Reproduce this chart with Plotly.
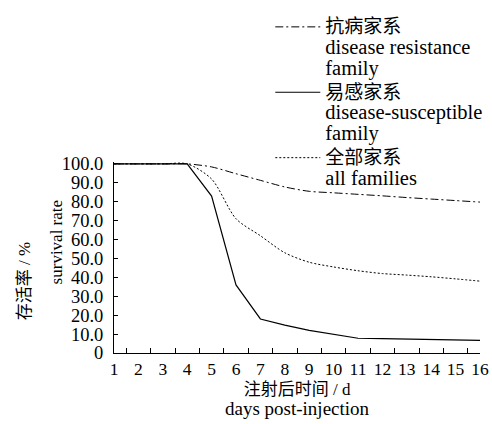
import plotly.graph_objects as go

days = [str(d) for d in range(1, 17)]
resistant = [100, 100, 100, 100, 98.4, 94.8, 91.3, 87.8, 85.5, 84.7, 83.9, 83.1, 82.2, 81.4, 80.6, 79.8]
susceptible = [100, 100, 100, 100, 83.0, 36.0, 18.0, 14.7, 12.0, 10.0, 7.8, 7.6, 7.4, 7.2, 7.0, 6.7]
all_fam = [100, 100, 100, 100, 92.0, 71.0, 62.0, 53.0, 48.0, 45.5, 43.5, 42.0, 41.2, 40.3, 39.2, 38.0]

ytick_vals = [0, 10, 20, 30, 40, 50, 60, 70, 80, 90, 100]
ytick_text = ["0", "10.0", "20.0", "30.0", "40.0", "50.0", "60.0", "70.0", "80.0", "90.0", "100.0"]

cn_names = ["抗病家系", "易感家系", "全部家系"]
en_names = [["disease resistance", "family"], ["disease-susceptible", "family"], ["all families"]]

FONT = "Liberation Serif, Times New Roman, Noto Sans CJK SC, serif"


def legend_label(cn, en_lines):
    parts = ['<span style="font-size:19px">%s</span>' % cn]
    parts += ['<span style="font-size:20.5px">%s</span>' % e for e in en_lines]
    return "<br>".join(parts)


names = [legend_label(c, e) for c, e in zip(cn_names, en_names)]
x_title = ('<span style="font-size:17px">注射后时间 / d</span><br>'
           '<span style="font-size:19px">days post-injection</span>')

fig = go.Figure()
fig.add_trace(go.Scatter(x=days, y=resistant, mode="lines", name=names[0],
                         line=dict(color="black", width=1, dash="8px,3px,2px,3px", shape="spline", smoothing=0.8)))
fig.add_trace(go.Scatter(x=days, y=susceptible, mode="lines", name=names[1],
                         line=dict(color="black", width=1.2)))
fig.add_trace(go.Scatter(x=days, y=all_fam, mode="lines", name=names[2],
                         line=dict(color="black", width=1, dash="2px,2px", shape="spline", smoothing=0.8)))

fig.update_layout(
    width=492, height=424,
    margin=dict(l=114, r=12, t=162, b=71, autoexpand=False),
    paper_bgcolor="white", plot_bgcolor="white",
    font=dict(family=FONT, size=18, color="black"),
    showlegend=True,
    legend=dict(x=0.427, y=1.796, xanchor="left", yanchor="top",
                bgcolor="rgba(0,0,0,0)", font=dict(size=16, family=FONT),
                valign="top", itemwidth=45, tracegroupgap=0),
    xaxis=dict(type="category", tickson="boundaries", ticks="inside", ticklen=5,
               tickcolor="black", showline=True, linecolor="black", linewidth=1,
               showgrid=False, zeroline=False, tickangle=0, automargin=False,
               tickfont=dict(size=17.5, family=FONT)),
    yaxis=dict(range=[0, 101], tickvals=ytick_vals, ticktext=ytick_text,
               ticks="inside", ticklen=4, tickcolor="black", showline=True,
               linecolor="black", linewidth=1, showgrid=False, zeroline=False,
               automargin=False,
               tickfont=dict(size=18.5, family=FONT), ticklabelstandoff=6),
    annotations=[
        dict(text=x_title, x=0.5, y=-0.244, xref="paper", yref="paper",
             showarrow=False, font=dict(size=15, family=FONT), xanchor="center", yanchor="middle"),
        dict(text="存活率 / %", x=24.5, y=281.7, xref="paper", yref="paper", textangle=-90,
             showarrow=False, font=dict(size=17, family=FONT), xanchor="center", yanchor="middle"),
        dict(text="survival rate", x=56.7, y=241.7, xref="paper", yref="paper", textangle=-90,
             showarrow=False, font=dict(size=17, family=FONT), xanchor="center", yanchor="middle"),
    ],
)

# convert pixel positions of the rotated y titles to paper coordinates
L, T, B = 114, 162, 71
W = 492 - L - 12
H = 424 - T - B
for ann in fig.layout.annotations:
    if ann.textangle == -90:
        px, py = ann.x, ann.y
        ann.x = (px - L) / W
        ann.y = (424 - B - py) / H

fig.write_html("out.html", config={"displayModeBar": False},
               post_script="document.body.style.margin='0';")
